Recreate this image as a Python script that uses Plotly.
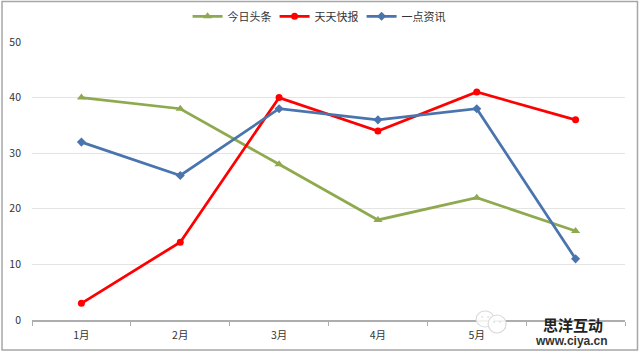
import plotly.graph_objects as go

months = ["1月", "2月", "3月", "4月", "5月", "6月"]
toutiao = [40, 38, 28, 18, 22, 16]
tiantian = [3, 14, 40, 34, 41, 36]
yidian = [32, 26, 38, 36, 38, 11]
tick_text = ["1月", "2月", "3月", "4月", "5月", ""]
y_ticks = [0, 10, 20, 30, 40, 50]

FONT = "Noto Sans CJK SC, Liberation Sans, sans-serif"

fig = go.Figure()
fig.add_trace(go.Scatter(x=months, y=toutiao, name="今日头条", mode="lines+markers",
                         line=dict(color="#8FAA4E", width=2.75),
                         marker=dict(symbol="triangle-up", size=8, color="#8FAA4E")))
fig.add_trace(go.Scatter(x=months, y=tiantian, name="天天快报", mode="lines+markers",
                         line=dict(color="#FF0000", width=2.75),
                         marker=dict(symbol="circle", size=7, color="#FF0000")))
fig.add_trace(go.Scatter(x=months, y=yidian, name="一点资讯", mode="lines+markers",
                         line=dict(color="#4A74AD", width=2.75),
                         marker=dict(symbol="diamond", size=7, color="#4A74AD")))

fig.update_layout(
    width=640, height=353,
    margin=dict(l=31.5, r=15, t=42, b=33, autoexpand=False),
    paper_bgcolor="white", plot_bgcolor="white",
    font=dict(family=FONT, size=10.5, color="#333333"),
    legend=dict(orientation="h", x=0.497, xanchor="center", xref="container",
                y=0.995, yanchor="top", yref="container",
                font=dict(size=11, color="#333333"), itemwidth=30, entrywidth=42,
                bgcolor="rgba(0,0,0,0)"),
    xaxis=dict(type="category", categoryorder="array", categoryarray=months,
               range=[-0.5, 5.5], tickmode="array", tickvals=months, ticktext=tick_text,
               tickson="boundaries", ticks="outside", ticklen=4, tickcolor="#ADADAD", tickwidth=1,
               showline=True, linecolor="#ADADAD", linewidth=1.5, showgrid=False, zeroline=False,
               automargin=False, ticklabelstandoff=5, tickfont=dict(size=10.5, color="#333333")),
    yaxis=dict(range=[0, 50], tickvals=y_ticks, showgrid=True, gridcolor="#E4E4E4", gridwidth=1,
               zeroline=False, showline=False, ticks="", ticklabelstandoff=10,
               automargin=False, tickfont=dict(size=10.5, color="#333333")),
    showlegend=True,
)

def px(x): return (x - 31.5) / 593.5
def py(y): return (320 - y) / 278

# outer frame of the chart
fig.add_shape(type="rect", xref="paper", yref="paper", x0=px(1.5), x1=px(637.5), y0=py(350), y1=py(1.5),
              line=dict(color="#A6A6A6", width=1.5), layer="above")
# watermark speech bubbles with their eyes
for cx, cy, rx, ry in [(485, 319, 9, 8), (497, 324, 9, 9)]:
    fig.add_shape(type="circle", xref="paper", yref="paper", x0=px(cx-rx), x1=px(cx+rx),
                  y0=py(cy+ry), y1=py(cy-ry),
                  line=dict(color="#DADADA", width=1.2), fillcolor="rgba(255,255,255,0.85)", layer="above")
    for ex in (cx - 3, cx + 3):
        fig.add_shape(type="circle", xref="paper", yref="paper", x0=px(ex-0.8), x1=px(ex+0.8),
                      y0=py(cy-1.2), y1=py(cy-2.8), line=dict(width=0), fillcolor="#CFCFCF", layer="above")
fig.add_annotation(xref="paper", yref="paper", x=px(573), y=py(324), xanchor="center", yanchor="middle",
                   text="<b>思洋互动</b>", showarrow=False,
                   font=dict(family="Noto Sans CJK SC", size=15, color="#222222"))
fig.add_annotation(xref="paper", yref="paper", x=px(571), y=py(341), xanchor="center", yanchor="middle",
                   text="<b>www.ciya.cn</b>", showarrow=False,
                   font=dict(family="Liberation Sans", size=12, color="#333333"))

fig.write_html("out.html", post_script="document.body.style.margin='0';",
               config={"displayModeBar": False})
